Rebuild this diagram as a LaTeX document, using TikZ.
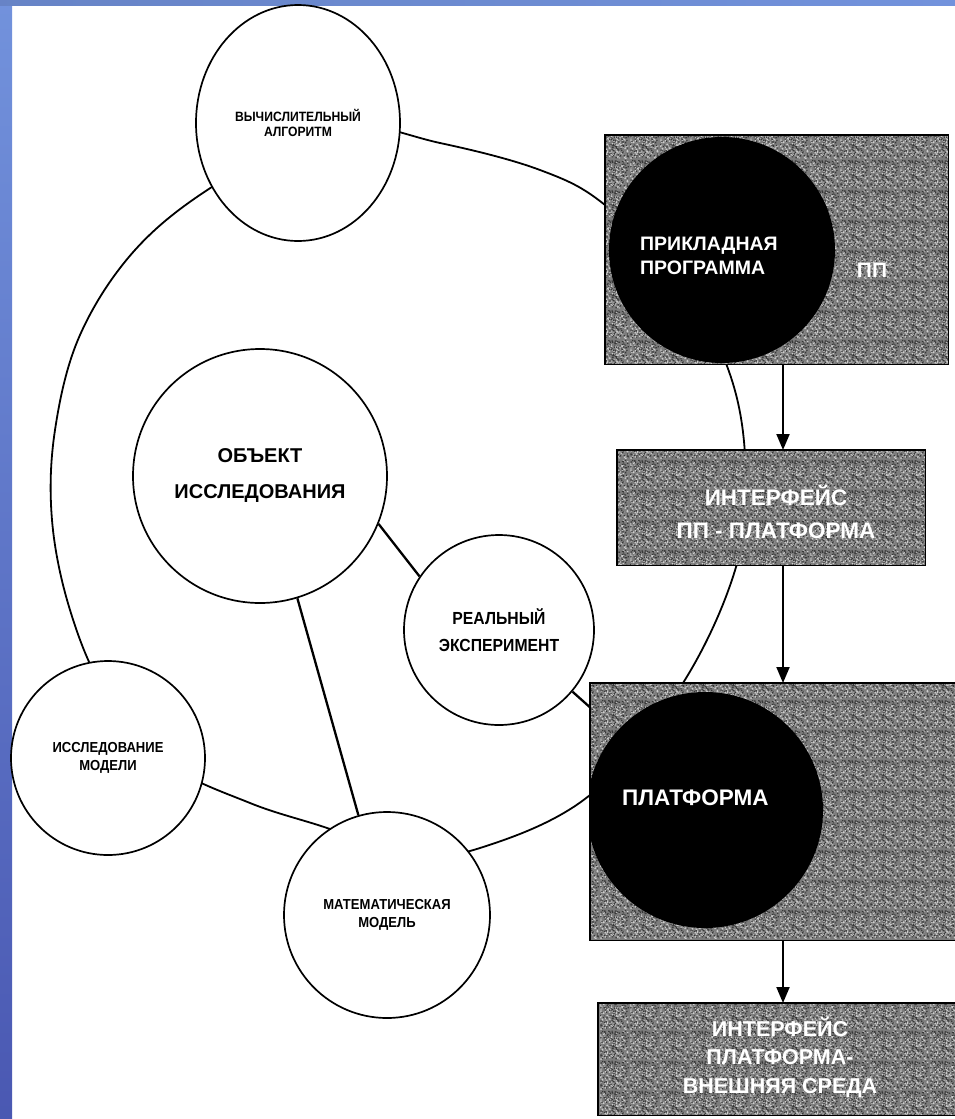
\documentclass[tikz,border=0pt]{standalone}
\usepackage{fontspec}
\setmainfont{Liberation Sans}
\newfontfamily\narrowsans{Liberation Sans}[FakeStretch=0.9]
\usetikzlibrary{arrows.meta,shapes.geometric,backgrounds,patterns}
\definecolor{frametop}{RGB}{114,146,220}
\definecolor{framebot}{RGB}{74,88,178}
\definecolor{boxgray}{RGB}{124,124,124}
\definecolor{specklelight}{RGB}{205,205,205}
\definecolor{speckledark}{RGB}{55,55,55}

% speckled halftone texture for the gray boxes
\pgfdeclarepatternformonly{speckleA}{\pgfqpoint{0pt}{0pt}}{\pgfqpoint{30pt}{30pt}}{\pgfqpoint{30pt}{30pt}}{%
  \pgfmathsetseed{11}%
  \foreach \k in {1,...,160}{%
    \pgfmathsetmacro{\gx}{rnd*28.8}%
    \pgfmathsetmacro{\gy}{rnd*28.8}%
    \pgfpathrectangle{\pgfpoint{\gx pt}{\gy pt}}{\pgfqpoint{1.2pt}{1.2pt}}%
    \pgfusepath{fill}%
  }%
}
\pgfdeclarepatternformonly{speckleB}{\pgfqpoint{0pt}{0pt}}{\pgfqpoint{30pt}{30pt}}{\pgfqpoint{30pt}{30pt}}{%
  \pgfmathsetseed{29}%
  \foreach \k in {1,...,140}{%
    \pgfmathsetmacro{\gx}{rnd*28.8}%
    \pgfmathsetmacro{\gy}{rnd*28.8}%
    \pgfpathrectangle{\pgfpoint{\gx pt}{\gy pt}}{\pgfqpoint{1.2pt}{1.2pt}}%
    \pgfusepath{fill}%
  }%
}

\begin{document}
\begin{tikzpicture}[x=1pt,y=-1pt,
  every node/.style={inner sep=0pt, align=center},
  ring/.style={draw, line width=1.7pt, fill=white, circle},
  loopline/.style={line width=1.8pt},
  link/.style={line width=2.3pt},
  grain/.style={rectangle, fill=boxgray,
    postaction={pattern=speckleA, pattern color=specklelight},
    postaction={pattern=speckleB, pattern color=speckledark}},
  boxedge/.style={line width=1.8pt},
  disc/.style={fill=black, circle},
  flow/.style={line width=2pt, -{Triangle[width=13pt,length=16pt]}},
  lbl/.style={font=\narrowsans\bfseries\fontsize{14.5}{18}\selectfont},
  wlbl/.style={text=white},
]
\useasboundingbox (0,0) rectangle (955,1119);
\clip (0,0) rectangle (955,1119);

% blue frame along the left and top edges
\shade[top color=frametop, bottom color=framebot] (0,0) rectangle (12,1119);
\shade[left color=frametop!90!black, right color=frametop] (0,0) rectangle (955,5);

% white circles of the research cycle
\node[ring, shape=ellipse, minimum width=204pt, minimum height=236pt,
      font=\narrowsans\bfseries\fontsize{13.5}{15}\selectfont] (alg) at (298,123)
  {ВЫЧИСЛИТЕЛЬНЫЙ\\АЛГОРИТМ};
\node[ring, minimum size=254pt, font=\bfseries\fontsize{20}{36}\selectfont] (obj) at (260,476)
  {ОБЪЕКТ\\ИССЛЕДОВАНИЯ};
\node[ring, minimum size=190pt, font=\narrowsans\bfseries\fontsize{17.5}{27}\selectfont] (real) at (499,630)
  {РЕАЛЬНЫЙ\\ЭКСПЕРИМЕНТ};
\node[ring, minimum size=194pt, lbl] (model) at (108,758)
  {ИССЛЕДОВАНИЕ\\МОДЕЛИ};
\node[ring, minimum size=206pt, lbl] (math) at (387,915)
  {МАТЕМАТИЧЕСКАЯ\\МОДЕЛЬ};

% software stack: speckled boxes with black discs
\node[grain, minimum width=343pt, minimum height=229pt, anchor=north west] (pp) at (605,135) {};
\begin{scope}
  \clip (pp.south west) rectangle (pp.north east);
  \node[disc, minimum size=226pt] (ppdisc) at (722,250) {};
\end{scope}
\draw[boxedge] (pp.south west) rectangle (pp.north east);
\node[wlbl, anchor=west, align=left, font=\bfseries\fontsize{19.5}{24.5}\selectfont] (pptext) at (640,256) {ПРИКЛАДНАЯ\\ПРОГРАММА};
\node[wlbl, font=\bfseries\fontsize{21}{25}\selectfont] (ppabbr) at (872,270) {ПП};

\node[grain, minimum width=308pt, minimum height=115pt, anchor=north west] (ifa) at (617,450) {};
\draw[boxedge] (ifa.south west) rectangle (ifa.north east);
\node[wlbl, font=\bfseries\fontsize{22.5}{33}\selectfont] (ifatext) at (776,512)
  {ИНТЕРФЕЙС\\ПП - ПЛАТФОРМА};

\node[grain, minimum width=400pt, minimum height=257pt, anchor=north west] (plat) at (590,683) {};
\begin{scope}
  \clip (plat.south west) rectangle (plat.north east);
  \node[disc, minimum size=236pt] (platdisc) at (705,810) {};
\end{scope}
\draw[boxedge] (plat.south west) rectangle (plat.north east);
\node[wlbl, anchor=west, font=\bfseries\fontsize{22.5}{25}\selectfont] (plattext) at (622,798) {ПЛАТФОРМА};

\node[grain, minimum width=400pt, minimum height=112pt, anchor=north west] (ifb) at (598,1003) {};
\draw[boxedge] (ifb.south west) rectangle (ifb.north east);
\node[wlbl, font=\bfseries\fontsize{21.5}{28.5}\selectfont] (ifbtext) at (780,1057)
  {ИНТЕРФЕЙС\\ПЛАТФОРМА-\\ВНЕШНЯЯ СРЕДА};

% the cycle line and the links between circles, behind circles and boxes
\begin{scope}[on background layer]
  \draw[loopline] plot[smooth cycle, tension=0.6] coordinates {
    (330,125) (440,143) (540,170) (605,205) (680,282) (727,366)
    (745,455) (738,560) (683,683) (590,795) (480,848) (400,856)
    (330,829) (250,803) (165,762) (105,692) (70,610) (52,520)
    (55,430) (80,335) (135,250) (215,185)};
  \draw[link] (obj.-22) -- (real.146);
  \draw[link] (obj.-73) -- (math.106);
  \draw[link] (real.-40) -- (platdisc);
\end{scope}

% arrows down the stack
\coordinate (ax) at (783,0);
\draw[flow] (pp.south -| ax) -- (ifa.north -| ax);
\draw[flow] (ifa.south -| ax) -- (plat.north -| ax);
\draw[flow] (plat.south -| ax) -- (ifb.north -| ax);
\end{tikzpicture}
\end{document}
